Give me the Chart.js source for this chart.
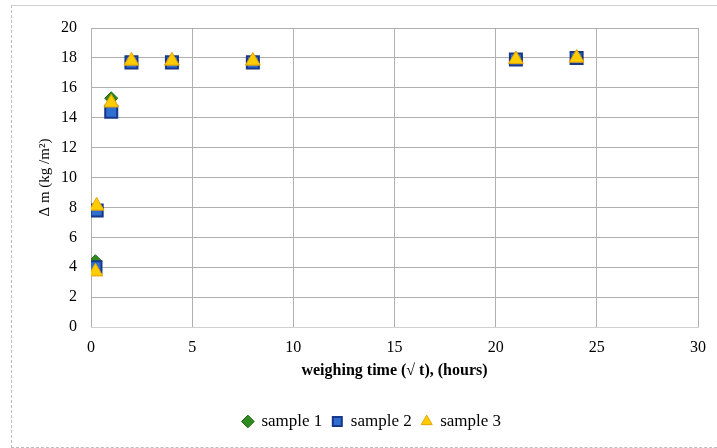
<!DOCTYPE html>
<html>
<head>
<meta charset="utf-8">
<script src="https://cdn.jsdelivr.net/npm/chart.js@4/dist/chart.umd.min.js"></script>
<style>
  html, body { margin: 0; padding: 0; background: #fff; overflow: hidden; }
  #wrap { position: relative; width: 717px; height: 448px; }
  #frame {
    position: absolute; left: 11px; top: 5px; width: 760px; height: 441px;
    border-left: 1px dashed #bdbdbd; border-bottom: 1px dashed #bdbdbd;
    border-top: 1px solid #d0d0d0; pointer-events: none;
  }
  canvas { position: absolute; left: 0; top: 0; }
</style>
</head>
<body>
<div id="wrap">
  <div id="frame"></div>
  <canvas id="c" width="717" height="448"></canvas>
</div>
<script>
// Weighing times (hours) and mass gain per area for the three samples
const timesA = [0.22, 0.28, 1, 2, 4, 8, 21, 24];
const sample1 = [4.4, 8.0, 15.3, 17.8, 17.8, 17.8, 17.9, 18.0];
const sample2 = [4.0, 7.8, 14.4, 17.7, 17.7, 17.7, 17.9, 18.0];
const sample3 = [3.7, 8.1, 15.0, 17.8, 17.8, 17.8, 17.9, 18.0];
const seriesNames = ['sample 1', 'sample 2', 'sample 3'];
const xTicks = [0, 5, 10, 15, 20, 25, 30];
const yTicks = [0, 2, 4, 6, 8, 10, 12, 14, 16, 18, 20];

const pts = (vals) => vals.map((v, i) => ({ x: timesA[i], y: v }));
const serif = '"Liberation Serif", "Times New Roman", serif';

new Chart(document.getElementById('c'), {
  type: 'scatter',
  data: {
    datasets: [
      { label: seriesNames[0], data: pts(sample1), pointStyle: 'rectRot', pointRadius: 6.5,
        backgroundColor: '#2f8a1f', borderColor: '#1d6512', borderWidth: 1, order: 2 },
      { label: seriesNames[1], data: pts(sample2), pointStyle: 'rect', pointRadius: 8.5,
        backgroundColor: '#2f6fd0', borderColor: '#16378a', borderWidth: 2, order: 1 },
      { label: seriesNames[2], data: pts(sample3), pointStyle: 'triangle', pointRadius: 8.5,
        backgroundColor: '#ffcc00', borderColor: '#e5a400', borderWidth: 1, order: 0 }
    ]
  },
  options: {
    responsive: false,
    animation: false,
    layout: { padding: { top: 28, right: 9, left: 36, bottom: 8 } },
    plugins: {
      tooltip: { enabled: false },
      legend: {
        position: 'bottom',
        labels: {
          usePointStyle: true,
          boxWidth: 10, boxHeight: 9,
          padding: 10,
          color: '#000',
          font: { family: serif, size: 17 },
          sort: (a, b) => a.datasetIndex - b.datasetIndex
        }
      }
    },
    scales: {
      x: {
        type: 'linear', min: 0, max: 30,
        afterBuildTicks: (s) => { s.ticks = xTicks.map(v => ({ value: v })); },
        afterFit: (s) => { s.height = 76; },
        border: { display: true, color: '#d0d0d0', width: 1 },
        grid: { color: '#b0b0b0', borderDash: [3, 2], drawTicks: false, lineWidth: 1 },
        ticks: { color: '#000', padding: 11, font: { family: serif, size: 16 } },
        title: { display: true, text: 'weighing time (√ t), (hours)', color: '#000',
                 padding: { top: 2, bottom: 23 }, font: { family: serif, size: 16, weight: 'bold' } }
      },
      y: {
        min: 0, max: 20,
        afterBuildTicks: (s) => { s.ticks = yTicks.map(v => ({ value: v })); },
        afterFit: (s) => { s.width = 55; },
        border: { display: false },
        grid: { color: '#b0b0b0', borderDash: [3, 2], drawTicks: false, lineWidth: 1 },
        ticks: { color: '#000', padding: 14, font: { family: serif, size: 16 } },
        title: { display: true, text: 'Δ m (kg /m²)', color: '#000',
                 padding: { top: 0, bottom: 4 }, font: { family: serif, size: 15 } }
      }
    }
  }
});
</script>
</body>
</html>
